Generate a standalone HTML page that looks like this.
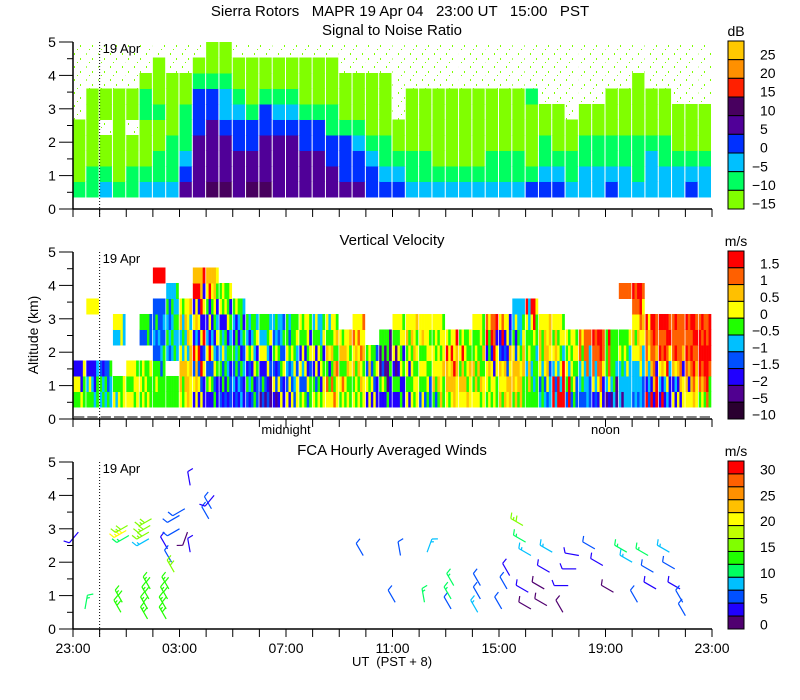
<!DOCTYPE html>
<html><head><meta charset="utf-8"><style>
html,body{margin:0;padding:0;background:#fff;}
svg{display:block;font-family:"Liberation Sans",sans-serif;}
text{white-space:pre;}
</style></head><body>
<svg id="chart" width="800" height="700" viewBox="0 0 800 700" xmlns="http://www.w3.org/2000/svg">
<defs>
<pattern id="speck" width="12" height="13" patternUnits="userSpaceOnUse">
<rect x="2" y="1" width="1" height="2" fill="#80ff00"/><rect x="8" y="6" width="1" height="2" fill="#80ff00"/>
<rect x="5" y="10" width="1" height="1" fill="#80ff00"/>
</pattern>
</defs>
<text x="400" y="16" text-anchor="middle" font-size="15" xml:space="preserve">Sierra Rotors   MAPR 19 Apr 04   23:00 UT   15:00   PST</text>
<g id="g"></g>
</svg>
<script>
// ---------- data ----------
const snrCols = ["baaaasssss","bbaaaaasss","cbaasaasss","baaaaaasss","bbaasaasss","cbaaabbass","cbbaabaaas","cbbbaaaass","edcbbbaass","eeeedddbas","feeeeddbaa","feeedccbaa","eeeddcbaas","feeddbaaas","feeeddbaas","eeeedcbaas","eeeedcbaas","eeeddbaaas","eeeddbaaas","eeddbbaaas","edddbaaass","eddcbaaass","ddcbaaaass","dcbbaaaass",
"dcbaasssss","cbbaaaasss","cbbaaaasss","cbaaaaasss","cbaaaaasss","cbaaaaasss","cbaaaaasss","cbbaaaasss","cbbaaaasss","cbbaaaasss","dbaaaabsss","dcbbaassss","dcbaaassss","cbbaasssss","ccbbaassss","ccbbaassss","dcbbaaasss","ccbbaaasss","cbbbaaaass","cccbaaasss","ccbbaaasss","ccbaaassss","dcbaaassss","ccbaaassss"];
const velCols = ["562.......","542...6...","453.......","65..46....","656.......","565.35....","5553433.9.","55.45454..","6776476...","263926297.","253642567.","32545265..","2435245...","352645....","132645....","263534....","634655....","536256....","652654....","685756....","56576.....","657686....","2635......","25115.....",
"252656....","656576....","356566....","576656....","67796.....","67565.....","657556....","566298....","767326....","5776544...","5545569...","436776....","994656....","35656.....","34488.....","26889.....","14555.....","44465..8..","34467689..","927889....","246989....","627888....","678989....","589998...."];
const windHours = [0.2,0.45,1.8,1.85,2.0,2.05,2.1,2.8,2.8,2.85,2.9,2.85,2.9,2.95,2.85,3.5,3.5,3.55,3.6,3.55,3.7,3.8,4.0,4.0,4.2,4.3,4.4,4.4,5.1,5.2,5.3,10.9,12.1,12.3,13.2,13.3,14.2,14.2,14.3,15.2,15.3,15.3,16.1,16.3,16.4,16.9,17.0,17.2,17.1,17.2,17.7,17.8,17.9,18.0,18.4,18.6,18.9,19.0,19.6,19.9,20.3,20.8,21.0,21.2,21.6,21.8,21.9,22.4,22.6,22.8,22.9,23.0];
const windAlts = [2.9,0.6,0.5,0.8,2.95,3.1,2.8,0.3,0.6,0.9,1.2,2.9,3.1,3.3,2.7,0.3,0.6,0.9,1.2,2.4,2.0,1.7,3.0,3.4,3.6,2.9,2.3,4.3,3.3,3.6,4.0,2.2,0.8,2.2,0.8,2.3,0.6,0.9,1.3,0.5,0.9,1.3,0.6,1.2,1.6,3.1,2.6,2.2,1.1,0.6,1.2,0.7,1.7,2.3,0.5,1.3,1.8,2.2,2.4,1.9,1.1,2.3,2.0,0.8,2.2,1.7,1.2,2.3,1.8,1.2,0.8,0.4];
const windSpeeds = [4,12,14,14,21,16,11,13,13,13,13,16,16,15,8,13,13,13,13,4,6,15,7,5,7,2,4,3,5,5,4,6,6,5,12,9,7,10,10,8,7,6,6,5,4,15,12,8,3,2,1,2,4,9,1,3,3,4,6,3,2,12,8,5,10,6,3,9,5,4,5,5];
const windDirs = [220,10,330,330,240,240,240,330,330,330,330,240,240,240,240,330,330,330,330,330,330,330,240,240,240,200,350,350,330,330,220,330,330,350,350,20,330,330,330,330,330,330,330,330,330,300,300,300,300,300,300,300,300,300,330,270,270,280,300,300,300,300,300,330,300,300,300,300,300,300,330,330];
const hourTickLabels = ["23:00","03:00","07:00","11:00","15:00","19:00","23:00"];
const snrBarLabels = ["25","20","15","10","5","0","\u22125","\u221210","\u221215"];
const velBarLabels = ["1.5","1","0.5","0","\u22120.5","\u22121","\u22121.5","\u22122","\u22125","\u221210"];
const windBarLabels = ["30","25","20","15","10","5","0"];

// ---------- styling ----------
const SNRC = {a:'#80ff00',b:'#00ff60',c:'#00c0ff',d:'#0030ff',e:'#500098',f:'#48005f',g:'#ff2000',h:'#ff9000',i:'#ffc800'};
const SNRBAR = ['i','h','g','f','e','d','c','b','a'];
const VELC = ['#2a0030','#500090','#2000ff','#0050ff','#00c0ff','#20ff00','#ffff00','#ffc000','#ff6000','#ff0000'];
const WINDC = ['#500070','#2000ff','#0050ff','#00c0ff','#00ff60','#20ff00','#80ff00','#c0ff00','#ffff00','#ffc000','#ff9000','#ff6000','#ff0000'];
const NS='http://www.w3.org/2000/svg';
const G=document.getElementById('g');
const X0=73, PXH=(712-73)/24, BIN0=0.36, BINW=0.464;
function xOf(h){return X0+h*PXH;}
function yOf(p,alt){return 209+p*210-alt*33.4;}
function mk(tag,attrs,parent){const e=document.createElementNS(NS,tag);for(const k in attrs)e.setAttribute(k,attrs[k]);(parent||G).appendChild(e);return e;}

function axes(p,title,showLabels){
  const base=209+p*210;
  const ax=mk('g',{});
  
  
  mk('line',{x1:X0,y1:yOf(p,5),x2:X0,y2:base,stroke:'#000','stroke-width':1.5},ax);
  mk('line',{x1:X0,y1:base,x2:712,y2:base,stroke:'#000','stroke-width':1.5},ax);
  for(let k=0;k<=10;k++){const y=yOf(p,k/2);mk('line',{x1:k%2?67:59,y1:y,x2:X0,y2:y,stroke:'#000'},ax);
    if(k%2==0){const t=mk('text',{x:52,y:y+5,'text-anchor':'middle','font-size':14},ax);t.textContent=String(k/2);}}
  for(let h=0;h<=24;h++){const x=xOf(h);mk('line',{x1:x,y1:base,x2:x,y2:base+8,stroke:'#000'},ax);}
  if(showLabels){hourTickLabels.forEach((s,i)=>{const t=mk('text',{x:xOf(i*4),y:base+24,'text-anchor':'middle','font-size':14},ax);t.textContent=s;});}
  const tt=mk('text',{x:392,y:base-174,'text-anchor':'middle','font-size':15},ax);tt.textContent=title;
  
  
  mk('line',{x1:xOf(1),y1:yOf(p,5),x2:xOf(1),y2:base+8,stroke:'#000','stroke-dasharray':'1,2'},ax);
  const d=mk('text',{x:xOf(1)+3,y:yOf(p,5)+11,'font-size':13},ax);d.textContent='19 Apr';
}

// Panel 1: SNR
const p1=mk('g',{});


snrCols.forEach((col,i)=>{
  const x=xOf(i*0.5), w=PXH*0.5-1;
  for(let k=0;k<col.length;k++){
    const ch=col[k]; if(ch==='.')continue;
    const y1=yOf(0,BIN0+(k+1)*BINW), y2=yOf(0,BIN0+k*BINW);
    const r=mk('rect',{x:x,y:y1,width:w,height:y2-y1+0.5,fill:ch==='s'?'url(#speck)':SNRC[ch]},p1);
    
    
  }
});
axes(0,'Signal to Noise Ratio',false);

// Panel 2: Velocity
const p2=mk('g',{});


velCols.forEach((col,i)=>{
  const x=xOf(i*0.5), w=PXH*0.5-1;
  for(let k=0;k<col.length;k++){
    const ch=col[k]; if(ch==='.')continue;
    const v=+ch;
    const left=i>0&&velCols[i-1][k]!=='.'?+velCols[i-1][k]:v;
    const up=k+1<col.length&&col[k+1]!=='.'?+col[k+1]:v;
    const down=k>0&&col[k-1]!=='.'?+col[k-1]:v;
    const seq=[v,left,v,up,down];
    const y1=yOf(1,BIN0+(k+1)*BINW), y2=yOf(1,BIN0+k*BINW);
    seq.forEach((c,j)=>{
      const r=mk('rect',{x:x+j*w/5,y:y1,width:w/5+0.3,height:y2-y1+0.5,fill:VELC[c]},p2);
      
      
    });
  }
});
for(let i=0;i<48;i++){mk('line',{x1:xOf(i*0.5)+1,y1:417,x2:xOf(i*0.5+0.5)-2,y2:417,stroke:'#000'},p2);}
axes(1,'Vertical Velocity',false);
mk('line',{x1:xOf(8),y1:419,x2:xOf(8),y2:427,stroke:'#000'});
mk('line',{x1:xOf(20),y1:419,x2:xOf(20),y2:427,stroke:'#000'});
let t=mk('text',{x:xOf(8),y:434,'text-anchor':'middle','font-size':13});t.textContent='midnight';
t=mk('text',{x:xOf(20),y:434,'text-anchor':'middle','font-size':13});t.textContent='noon';
t=mk('text',{x:38,y:335,'text-anchor':'middle','font-size':14,transform:'rotate(-90 38 335)'});t.textContent='Altitude (km)';



// Panel 3: winds
const p3=mk('g',{});


windHours.forEach((h,i)=>{
  const x=xOf(h), y=yOf(2,windAlts[i]), s=windSpeeds[i], d=windDirs[i]*Math.PI/180;
  const col=WINDC[Math.min(12,Math.floor(s/2.5))];
  const dx=Math.sin(d), dy=-Math.cos(d), L=14;
  const ex=x+dx*L, ey=y+dy*L;
  const g=mk('g',{stroke:col,'stroke-width':1.2,fill:'none'},p3);
  
  
  mk('line',{x1:x,y1:y,x2:ex,y2:ey},g);
  const nf=Math.max(1,Math.round(s/5));
  for(let f=0;f<Math.min(nf,4);f++){
    const bx=ex-dx*f*3, by=ey-dy*f*3;
    const fx=dx*Math.cos(1.2)-dy*Math.sin(1.2), fy=dx*Math.sin(1.2)+dy*Math.cos(1.2);
    mk('line',{x1:bx,y1:by,x2:bx+fx*(f%2?3:6),y2:by+fy*(f%2?3:6)},g);
  }
});
axes(2,'FCA Hourly Averaged Winds',true);
t=mk('text',{x:392,y:666,'text-anchor':'middle','font-size':13});t.textContent='UT  (PST + 8)';



// Colorbars
function colorbar(top,bottom,colors,labels,step,unit,off,name){
  const g=mk('g',{});
  
  
  const n=colors.length, h=(bottom-top)/n;
  colors.forEach((c,i)=>{mk('rect',{x:728,y:top+i*h,width:16,height:h,fill:c,stroke:'#000','stroke-width':1},g);});
  labels.forEach((s,i)=>{const tt=mk('text',{x:s.charAt(0)==='\u2212'?752:760,y:top+(i*step+0.5)*h+off,'font-size':14},g);tt.textContent=s;});
  const u=mk('text',{x:736,y:top-5,'text-anchor':'middle','font-size':14},g);u.textContent=unit;
}
colorbar(41,209,SNRBAR.map(c=>SNRC[c]),snrBarLabels,1,'dB',9,'snr-colorbar');
colorbar(251,419,VELC.slice().reverse(),velBarLabels,1,'m/s',9,'velocity-colorbar');
colorbar(461,629,WINDC.slice().reverse(),windBarLabels,2,'m/s',7,'wind-colorbar');
</script>
</body></html>
